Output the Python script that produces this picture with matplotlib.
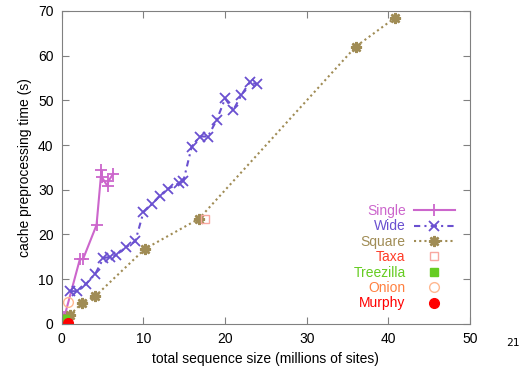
import numpy as np
import matplotlib.pyplot as plt

# sequence size (millions of sites) vs cache preprocessing time (s)
single_x = [0.1, 0.3, 2.2, 2.6, 4.25, 4.85, 4.9, 5.6, 5.7, 6.3]
single_y = [0.4, 1.5, 14.4, 14.5, 22.1, 34.3, 32.8, 30.8, 31.9, 33.6]

wide_x = [0.98, 1.88, 3.0, 4.1, 5.1, 5.9, 6.6, 7.9, 9.0, 10.0, 11.0, 12.0, 13.0,
          14.3, 14.9, 15.9, 16.9, 17.9, 19.0, 20.0, 21.0, 22.0, 23.0, 23.9]
wide_y = [7.3, 7.3, 9.0, 11.2, 14.7, 15.0, 15.3, 17.2, 18.5, 25.0, 26.7, 28.7, 30.2,
          31.4, 32.0, 39.6, 41.9, 41.9, 45.7, 50.4, 47.8, 51.2, 54.0, 53.6]

square_x = [0.1, 0.3, 0.6, 1.0, 2.5, 4.1, 10.2, 16.8, 36.0, 40.85]
square_y = [0.3, 0.8, 1.4, 2.0, 4.7, 6.2, 16.8, 23.5, 62.0, 68.5]

taxa_x = [17.5]
taxa_y = [23.4]
treezilla_x = [0.37]
treezilla_y = [1.0]
onion_x = [0.75]
onion_y = [4.9]
murphy_x = [0.78]
murphy_y = [0.3]

plt.rcParams['font.family'] = 'Liberation Sans'
plt.rcParams['font.size'] = 10

fig = plt.figure(figsize=(5.24, 3.74), dpi=100)
ax = fig.add_axes([0.118, 0.134, 0.779, 0.837])

c_single = '#cc66cc'
c_wide = '#6a50d0'
c_square = '#a08c55'

ax.plot(single_x, single_y, color=c_single, lw=1.5, marker='+', ms=8, mew=1.3, label='Single')
ax.plot(wide_x, wide_y, color=c_wide, lw=1.5, ls=(0, (3, 2, 1, 2)), marker='x', ms=7, mew=1.3, label='Wide')
ax.plot(square_x, square_y, color=c_square, lw=1.5, ls=(0, (1, 1.5)), marker=(8, 2, 0), ms=8, mew=1.8, label='Square')
ax.plot(taxa_x, taxa_y, ls='none', marker='s', ms=6, mfc='none', mec='#f8a8a0', mew=1, color='#ff4030', label='Taxa')
ax.plot(treezilla_x, treezilla_y, ls='none', marker='s', ms=6, color='#66cc22', label='Treezilla')
ax.plot(onion_x, onion_y, ls='none', marker='o', ms=7, mfc='none', mec='#ffb890', mew=1, color='#ff8040', label='Onion')
ax.plot(murphy_x, murphy_y, ls='none', marker='o', ms=7, color='#ff0000', label='Murphy')

ax.set_xlim(0, 50)
ax.set_ylim(0, 70)
ax.set_xticks(np.arange(0, 51, 10))
ax.set_yticks(np.arange(0, 71, 10))
ax.tick_params(direction='in', top=True, right=True, length=5, color='#808080', pad=6)
for s in ax.spines.values():
    s.set_color('#808080')

ax.set_xlabel('total sequence size (millions of sites)')
ax.set_ylabel('cache preprocessing time (s)')

leg = ax.legend(loc='lower right', bbox_to_anchor=(0.98, 0.021), frameon=False, markerfirst=False,
                handlelength=2.95, handletextpad=0.6, labelspacing=0.1, borderpad=0,
                labelcolor=['#cc66cc', '#6a50d0', '#a08c55', '#ff3c28', '#66cc22', '#ff8040', '#ff0000'])

fig.text(0.992, 0.075, '21', family='DejaVu Sans Mono', fontsize=8, ha='right')

fig.savefig('out.png', dpi=100)
